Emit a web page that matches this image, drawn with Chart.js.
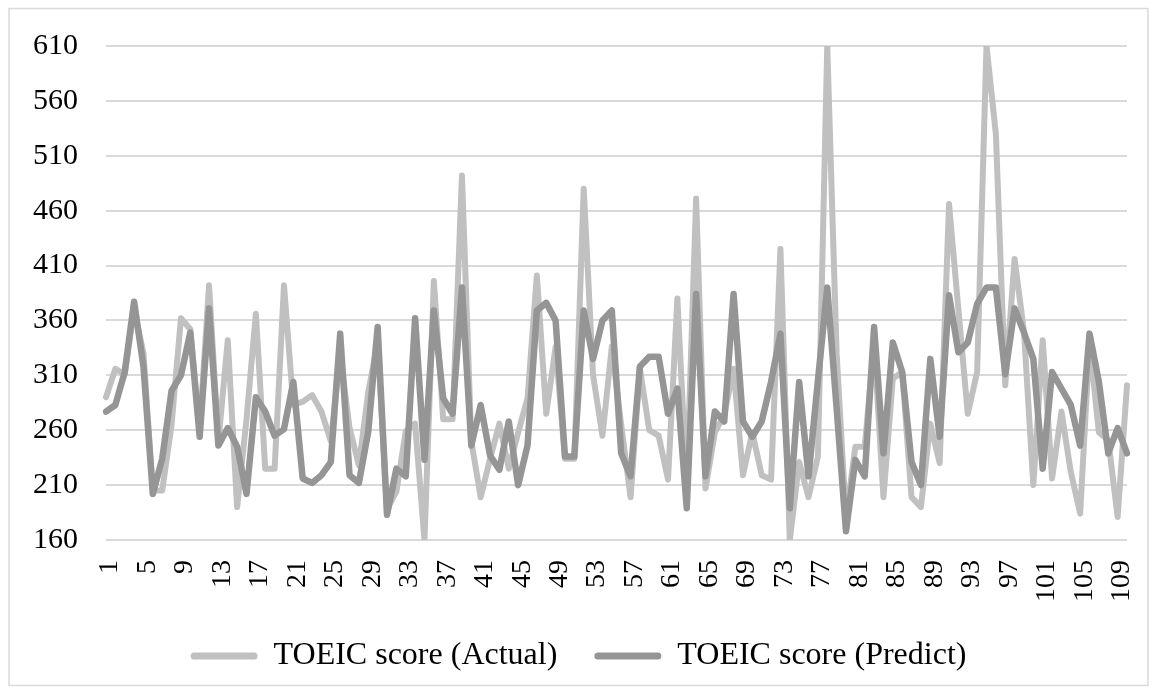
<!DOCTYPE html>
<html>
<head>
<meta charset="utf-8">
<script src="https://cdn.jsdelivr.net/npm/chart.js@4.4.1/dist/chart.umd.min.js"></script>
<style>
  html, body { margin: 0; padding: 0; background: #fff; }
  #wrap { position: relative; width: 1157px; height: 692px; }
</style>
</head>
<body>
<div id="wrap"><canvas id="chart" width="1157" height="692"></canvas></div>
<script>
"use strict";

// TOEIC scores per student, actual vs model prediction
const actualScores = [
  290, 316, 311, 370, 330, 205, 205, 265, 362, 352,
  260, 392, 250, 342, 190, 270, 366, 225, 225, 392,
  283, 286, 292, 277, 250, 330, 262, 228, 295, 340,
  188, 204, 259, 266, 160, 396, 270, 270, 492, 250,
  199, 234, 266, 225, 258, 289, 401, 275, 336, 234,
  234, 480, 310, 255, 336, 265, 199, 316, 260, 255,
  215, 380, 210, 471, 207, 258, 274, 316, 219, 258,
  219, 215, 425, 160, 231, 199, 236, 610, 330, 180,
  245, 245, 340, 199, 307, 313, 199, 190, 266, 230,
  466, 370, 275, 313, 610, 530, 301, 416, 350, 210,
  342, 216, 277, 222, 184, 340, 258, 251, 181, 301,
];

const predictScores = [
  277, 283, 313, 377, 318, 202, 234, 296, 310, 349,
  254, 371, 246, 262, 245, 202, 290, 277, 255, 261,
  304, 216, 212, 219, 231, 348, 219, 212, 259, 354,
  183, 225, 218, 362, 233, 369, 289, 275, 390, 246,
  283, 237, 224, 268, 210, 246, 369, 376, 360, 236,
  236, 369, 325, 360, 369, 239, 218, 318, 327, 327,
  275, 298, 189, 384, 218, 277, 268, 384, 268, 254,
  268, 304, 348, 189, 304, 218, 305, 390, 280, 168,
  233, 218, 354, 239, 340, 313, 231, 210, 325, 254,
  383, 331, 340, 375, 390, 390, 311, 371, 349, 325,
  225, 313, 298, 283, 246, 348, 304, 239, 262, 239,
];

// student numbers 1..110
const studentIds = actualScores.map((_, i) => String(i + 1));

const yTicks = { min: 160, max: 610, step: 50 };

const colors = {
  actual: '#c0c0c0',
  predict: '#959595',
  grid: '#d9d9d9',
  text: '#000000',
  frame: '#d9d9d9',
};

const serif = "'Liberation Serif', 'Times New Roman', serif";

// light grey frame round the whole chart
const framePlugin = {
  id: 'frame',
  beforeDraw(chart) {
    const ctx = chart.ctx;
    ctx.save();
    ctx.strokeStyle = colors.frame;
    ctx.lineWidth = 1.5;
    ctx.strokeRect(9, 8.5, 1139, 677);
    ctx.restore();
  },
};

new Chart(document.getElementById('chart').getContext('2d'), {
  type: 'line',
  data: {
    labels: studentIds,
    datasets: [
      {
        label: 'TOEIC score (Actual)',
        data: actualScores,
        borderColor: colors.actual,
        backgroundColor: colors.actual,
        borderWidth: 6,
        pointRadius: 0,
        tension: 0,
        borderJoinStyle: 'round',
        borderCapStyle: 'round',
        order: 1,
      },
      {
        label: 'TOEIC score (Predict)',
        data: predictScores,
        borderColor: colors.predict,
        backgroundColor: colors.predict,
        borderWidth: 6.5,
        pointRadius: 0,
        tension: 0,
        borderJoinStyle: 'round',
        borderCapStyle: 'round',
        order: 0,
      },
    ],
  },
  options: {
    responsive: false,
    animation: false,
    layout: { padding: { left: 30, right: 30, top: 45, bottom: 10 } },
    plugins: {
      legend: {
        position: 'bottom',
        labels: {
          color: colors.text,
          font: { family: serif, size: 32 },
          boxWidth: 67,
          boxHeight: 7,
          useBorderRadius: true,
          borderRadius: 3.5,
          padding: 37,
          sort: (a, b) => a.datasetIndex - b.datasetIndex,
          generateLabels(chart) {
            const items = Chart.defaults.plugins.legend.labels.generateLabels(chart);
            items.forEach(it => { it.lineWidth = 0; });
            return items;
          },
        },
      },
      tooltip: { enabled: false },
    },
    scales: {
      x: {
        grid: { display: false, drawTicks: false },
        border: { display: false },
        ticks: {
          color: colors.text,
          font: { family: serif, size: 28 },
          autoSkip: false,
          minRotation: 90,
          maxRotation: 90,
          padding: 20,
          labelOffset: 4,
          callback(value, index) {
            return index % 4 === 0 ? studentIds[index] : '';
          },
        },
        afterFit(scale) {
          scale.height = 63;
          scale.paddingLeft = 0;
          scale.paddingRight = 0;
        },
      },
      y: {
        min: yTicks.min,
        max: yTicks.max,
        grid: { color: colors.grid, lineWidth: 2, drawTicks: false },
        border: { display: false },
        ticks: {
          stepSize: yTicks.step,
          color: colors.text,
          font: { family: serif, size: 30 },
          padding: 28,
        },
        afterFit(scale) { scale.width = 76; },
      },
    },
  },
  plugins: [framePlugin],
});
</script>
</body>
</html>
